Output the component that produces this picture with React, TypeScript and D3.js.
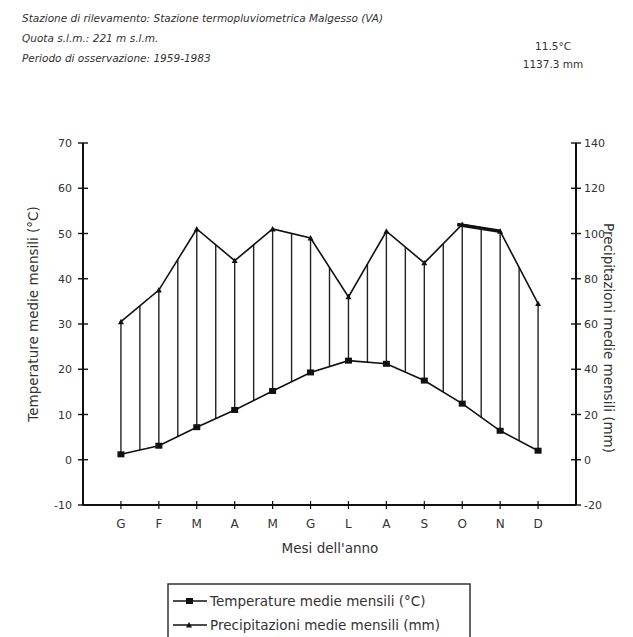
import React from "react";
import * as d3 from "d3";

const months = ["G", "F", "M", "A", "M", "G", "L", "A", "S", "O", "N", "D"];
const temperature = [1.2, 3.1, 7.2, 11.0, 15.2, 19.3, 21.9, 21.2, 17.5, 12.4, 6.4, 2.0];
const precipitation = [61, 75, 102, 88, 102, 98, 72, 101, 87, 104, 101, 69];
const tempTicks = [-10, 0, 10, 20, 30, 40, 50, 60, 70];
const precTicks = [-20, 0, 20, 40, 60, 80, 100, 120, 140];
const headerLines = [
  "Stazione di rilevamento: Stazione termopluviometrica Malgesso (VA)",
  "Quota s.l.m.: 221 m s.l.m.",
  "Periodo di osservazione: 1959-1983",
];
const summary = ["11.5°C", "1137.3 mm"];
const legendLabels = ["Temperature medie mensili (°C)", "Precipitazioni medie mensili (mm)"];

const W = 633;
const H = 637;
const left = 83;
const right = 576;
const top = 143;
const bottom = 505;
const font = "'DejaVu Sans', Verdana, sans-serif";
const txt = "#333";

export default function App() {
  const idx = months.map((_, i) => i);
  const x = d3.scalePoint<number>().domain(idx).range([left, right]).padding(1);
  const yT = d3.scaleLinear().domain([-10, 70]).range([bottom, top]);
  const yP = d3.scaleLinear().domain([-20, 140]).range([bottom, top]);

  const tLine = d3.line<number>().x((i) => x(i)!).y((i) => yT(temperature[i]));
  const pLine = d3.line<number>().x((i) => x(i)!).y((i) => yP(precipitation[i]));

  const hatch: { x: number; y1: number; y2: number }[] = [];
  idx.forEach((i) => {
    hatch.push({ x: x(i)!, y1: yT(temperature[i]), y2: yP(precipitation[i]) });
    if (i < idx.length - 1) {
      const xm = (x(i)! + x(i + 1)!) / 2;
      const tm = (temperature[i] + temperature[i + 1]) / 2;
      const pm = (precipitation[i] + precipitation[i + 1]) / 2;
      hatch.push({ x: xm, y1: yT(tm), y2: yP(pm) });
    }
  });

  const tri = (cx: number, cy: number, s: number) =>
    `M${cx - s},${cy + s * 0.8}L${cx + s},${cy + s * 0.8}L${cx},${cy - s}Z`;

  return (
    <svg width={W} height={H} style={{ display: "block", position: "absolute", left: 0, top: 0, background: "#fff" }}>
      <rect width={W} height={H} fill="#fff" />
      {headerLines.map((t, i) => (
        <text key={i} x={22} y={22 + i * 20} fontFamily={font} fontSize={10.5} fontStyle="italic" fill={txt}>
          {t}
        </text>
      ))}
      {summary.map((t, i) => (
        <text key={i} x={553} y={50 + i * 18} textAnchor="middle" fontFamily={font} fontSize={10.5} fill={txt}>
          {t}
        </text>
      ))}

      {hatch.map((h, i) => (
        <line key={i} x1={h.x} x2={h.x} y1={h.y1} y2={h.y2} stroke="#222" strokeWidth={1.4} />
      ))}

      <path d={tLine(idx) || ""} fill="none" stroke="#111" strokeWidth={1.6} />
      <path d={pLine(idx) || ""} fill="none" stroke="#111" strokeWidth={1.6} />
      <line x1={x(9)! - 5} x2={x(10)!} y1={yP(precipitation[9])} y2={yP(precipitation[10])} stroke="#111" strokeWidth={3.5} />
      {idx.map((i) => (
        <rect key={"t" + i} x={x(i)! - 3.5} y={yT(temperature[i]) - 3} width={7} height={6} fill="#111" />
      ))}
      {idx.map((i) => (
        <path key={"p" + i} d={tri(x(i)!, yP(precipitation[i]), 3)} fill="#111" />
      ))}

      <line x1={left} x2={left} y1={top} y2={bottom} stroke="#111" strokeWidth={2} />
      <line x1={right} x2={right} y1={top} y2={bottom} stroke="#111" strokeWidth={2} />
      <line x1={left} x2={right} y1={bottom} y2={bottom} stroke="#111" strokeWidth={2} />
      {tempTicks.map((t) => (
        <g key={"lt" + t}>
          <line x1={left - 5} x2={left + 5} y1={yT(t)} y2={yT(t)} stroke="#111" strokeWidth={1.4} />
          <text x={left - 11} y={yT(t) + 4} textAnchor="end" fontFamily={font} fontSize={11} fill={txt}>
            {t}
          </text>
        </g>
      ))}
      {precTicks.map((t) => (
        <g key={"rt" + t}>
          <line x1={right - 5} x2={right + 5} y1={yP(t)} y2={yP(t)} stroke="#111" strokeWidth={1.4} />
          <text x={right + 8} y={yP(t) + 4} textAnchor="start" fontFamily={font} fontSize={11} fill={txt}>
            {t}
          </text>
        </g>
      ))}
      {idx.map((i) => (
        <g key={"xt" + i}>
          <line x1={x(i)!} x2={x(i)!} y1={bottom - 4} y2={bottom + 4} stroke="#111" strokeWidth={1.2} />
          <text x={x(i)!} y={bottom + 23} textAnchor="middle" fontFamily={font} fontSize={12} fill={txt}>
            {months[i]}
          </text>
        </g>
      ))}
      <text x={330} y={553} textAnchor="middle" fontFamily={font} fontSize={13.5} fill={txt}>
        Mesi dell'anno
      </text>
      <text
        transform={`translate(38,314) rotate(-90)`}
        textAnchor="middle"
        fontFamily={font}
        fontSize={13.5}
        fill={txt}
      >
        Temperature medie mensili (°C)
      </text>
      <text
        transform={`translate(604,338) rotate(90)`}
        textAnchor="middle"
        fontFamily={font}
        fontSize={13.5}
        fill={txt}
      >
        Precipitazioni medie mensili (mm)
      </text>

      <rect x={168} y={584} width={302} height={60} fill="#fff" stroke="#333" strokeWidth={1.5} />
      <line x1={173} x2={207} y1={601} y2={601} stroke="#111" strokeWidth={1.6} />
      <rect x={186} y={598} width={7} height={6} fill="#111" />
      <text x={210} y={606} fontFamily={font} fontSize={13.5} fill={txt}>
        {legendLabels[0]}
      </text>
      <line x1={173} x2={207} y1={625} y2={625} stroke="#111" strokeWidth={1.6} />
      <path d={tri(189, 625, 3)} fill="#111" />
      <text x={210} y={630} fontFamily={font} fontSize={13.5} fill={txt}>
        {legendLabels[1]}
      </text>
    </svg>
  );
}
